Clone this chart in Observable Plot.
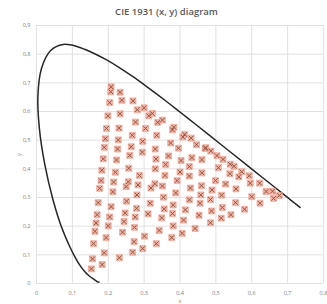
<!DOCTYPE html>
<html>
<head>
<meta charset="utf-8">
<script src="https://cdn.jsdelivr.net/npm/d3@7"></script>
<script src="https://cdn.jsdelivr.net/npm/@observablehq/plot@0.6"></script>
<style>
  html, body { margin: 0; padding: 0; background: #fff; }
  #wrap { width: 327px; height: 304px; font-family: "Open Sans", "Liberation Sans", sans-serif; }
  #title { height: 20px; line-height: 24px; text-align: center; font-size: 9.5px; font-weight: 600; color: #595959; padding-left: 6px; box-sizing: border-box; }
</style>
</head>
<body>
<div id="wrap"><div id="title">CIE 1931 (x, y) diagram</div><div id="chart"></div></div>
<script>
// Spectral locus (CIE 1931 2°, 380–700 nm)
const locusX = [0.1741,0.1740,0.1738,0.1736,0.1733,0.1730,0.1726,0.1721,0.1714,0.1703,0.1689,0.1669,0.1644,0.1611,0.1566,0.1510,0.1440,0.1355,0.1241,0.1096,0.0913,0.0687,0.0454,0.0235,0.0082,0.0039,0.0139,0.0389,0.0743,0.1142,0.1547,0.1929,0.2296,0.2658,0.3016,0.3373,0.3731,0.4087,0.4441,0.4788,0.5125,0.5448,0.5752,0.6029,0.6270,0.6482,0.6658,0.6801,0.6915,0.7006,0.7079,0.7140,0.7190,0.7230,0.7260,0.7283,0.7300,0.7311,0.7320,0.7327,0.7334,0.7340,0.7344,0.7346,0.7347];
const locusY = [0.0050,0.0050,0.0049,0.0049,0.0048,0.0048,0.0048,0.0048,0.0051,0.0058,0.0069,0.0086,0.0109,0.0138,0.0177,0.0227,0.0297,0.0399,0.0578,0.0868,0.1327,0.2007,0.2950,0.4127,0.5384,0.6548,0.7502,0.8120,0.8338,0.8262,0.8059,0.7816,0.7543,0.7243,0.6923,0.6589,0.6245,0.5896,0.5547,0.5202,0.4866,0.4544,0.4242,0.3965,0.3725,0.3514,0.3340,0.3197,0.3083,0.2993,0.2920,0.2859,0.2809,0.2770,0.2740,0.2717,0.2700,0.2689,0.2680,0.2673,0.2666,0.2660,0.2656,0.2654,0.2653];

// Measured chromaticity points
const pointX = [0.208,0.207,0.233,0.204,0.238,0.269,0.281,0.300,0.199,0.233,0.313,0.323,0.276,0.338,0.351,0.195,0.230,0.304,0.379,0.383,
0.267,0.335,0.192,0.228,0.296,0.374,0.413,0.408,0.431,0.446,0.470,0.472,0.486,0.189,0.226,0.264,0.331,0.295,0.396,
0.186,0.223,0.260,0.333,0.368,0.360,0.403,0.433,0.461,0.503,0.520,0.540,0.551,
0.182,0.220,0.257,0.287,0.331,0.358,0.400,0.426,0.426,0.461,0.507,0.539,0.564,0.572,0.593,
0.180,0.215,0.256,0.283,0.319,0.330,0.351,0.392,0.388,0.429,0.460,0.489,0.499,0.527,0.556,0.596,0.622,
0.176,0.213,0.250,0.280,0.354,0.458,0.485,0.516,0.600,0.640,0.658,0.677,0.661,
0.426,0.456,0.172,0.208,0.251,0.317,0.381,0.279,0.356,0.415,0.453,0.488,0.518,0.555,0.580,0.623,0.542,
0.169,0.204,0.247,0.311,0.379,0.275,0.349,0.410,0.515,0.485,0.442,
0.166,0.200,0.244,0.273,0.342,0.381,0.406,0.163,0.240,
0.194,0.301,0.377,0.159,0.272,0.334,0.296,0.189,0.268,0.231,0.156,0.183,0.153];
const pointY = [0.686,0.669,0.667,0.631,0.639,0.637,0.606,0.613,0.585,0.592,0.585,0.593,0.563,0.562,0.570,0.541,0.542,0.541,0.536,0.545,
0.517,0.517,0.505,0.501,0.496,0.490,0.520,0.511,0.507,0.484,0.471,0.474,0.462,0.475,0.469,0.477,0.469,0.458,0.472,
0.435,0.431,0.447,0.434,0.445,0.415,0.429,0.439,0.432,0.446,0.433,0.416,0.409,
0.395,0.388,0.402,0.377,0.400,0.377,0.389,0.408,0.375,0.386,0.404,0.383,0.372,0.390,0.376,
0.359,0.354,0.355,0.344,0.333,0.348,0.340,0.359,0.316,0.333,0.341,0.326,0.359,0.347,0.330,0.350,0.350,
0.332,0.320,0.338,0.309,0.301,0.309,0.293,0.308,0.303,0.321,0.322,0.307,0.297,
0.292,0.280,0.282,0.268,0.287,0.280,0.274,0.262,0.260,0.257,0.238,0.253,0.265,0.282,0.259,0.280,0.240,
0.240,0.232,0.246,0.243,0.244,0.232,0.229,0.221,0.228,0.212,0.192,
0.211,0.201,0.216,0.196,0.185,0.201,0.175,0.182,0.179,
0.160,0.165,0.160,0.139,0.146,0.139,0.122,0.107,0.109,0.090,0.086,0.066,0.051];

const xTicks = [0,0.1,0.2,0.3,0.4,0.5,0.6,0.7,0.8];
const yTicks = [0,0.1,0.2,0.3,0.4,0.5,0.6,0.7,0.8,0.9];

const locus = locusX.map((x, i) => ({x, y: locusY[i]}));
const points = pointX.map((x, i) => ({x, y: pointY[i]}));
const fmt = d => d === 0 ? "0" : d3.format(".1f")(d).replace(".", ",");

const chart = Plot.plot({
  width: 327,
  height: 284,
  marginLeft: 36,
  marginRight: 4,
  marginTop: 5,
  marginBottom: 21,
  style: {fontFamily: "'Open Sans', 'Liberation Sans', sans-serif", fontSize: "5.6px", color: "#7f7f7f", background: "#fff"},
  x: {domain: [0, 0.8]},
  y: {domain: [0, 0.9]},
  marks: [
    Plot.gridX(xTicks, {stroke: "#d9d9d9", strokeOpacity: 1, strokeWidth: 0.8}),
    Plot.gridY(yTicks, {stroke: "#d9d9d9", strokeOpacity: 1, strokeWidth: 0.8}),
    Plot.axisX(xTicks, {tickFormat: fmt, tickSize: 0, tickPadding: 8, label: "x", labelAnchor: "center", labelOffset: 19, labelArrow: "none", fill: "#7f7f7f"}),
    Plot.axisY(yTicks, {tickFormat: fmt, tickSize: 0, tickPadding: 6, label: "y", labelAnchor: "center", labelOffset: 19, labelArrow: "none", fill: "#7f7f7f"}),
    Plot.line(locus, {x: "x", y: "y", curve: "catmull-rom", stroke: "#262626", strokeWidth: 1.5}),
    Plot.dot(points, {x: "x", y: "y", symbol: "square", r: 3.4, fill: "#f6b4a6", stroke: "#f19a86", strokeWidth: 0.6}),
    Plot.dot(points, {x: "x", y: "y", symbol: "times", r: 2.2, stroke: "#8c5a45", strokeWidth: 1})
  ]
});
document.getElementById("chart").appendChild(chart);
</script>
</body>
</html>
